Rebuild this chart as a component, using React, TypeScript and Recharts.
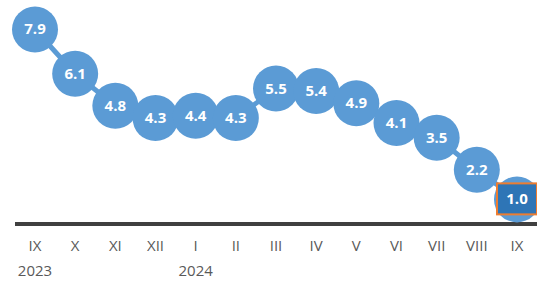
import React from 'react';
import { LineChart, Line, XAxis, YAxis } from 'recharts';

const months = ['IX', 'X', 'XI', 'XII', 'I', 'II', 'III', 'IV', 'V', 'VI', 'VII', 'VIII', 'IX'];
const years = ['2023', '', '', '', '2024', '', '', '', '', '', '', '', ''];
const values = [7.9, 6.1, 4.8, 4.3, 4.4, 4.3, 5.5, 5.4, 4.9, 4.1, 3.5, 2.2, 1.0];

const data = months.map((m, i) => ({ key: i, month: m, year: years[i], value: values[i] }));

const BLUE = '#5B9BD5';
const FONT = '"Open Sans", sans-serif';

const Dot = (props: any) => {
    const { cx, cy, index, payload } = props;
    const last = index === data.length - 1;
    return (
        <g key={`dot-${index}`}>
            <circle cx={cx} cy={cy} r={23} fill={BLUE} />
            {last && (
                <rect x={cx - 20} y={cy - 16} width={40} height={31} fill="#2E75B6" stroke="#ED7D31" strokeWidth={2} />
            )}
            <text x={cx} y={cy} dy={5} textAnchor="middle" fill="#fff" fontFamily={FONT} fontWeight={700} fontSize={15}>
                {payload.value.toFixed(1)}
            </text>
        </g>
    );
};

const Tick = (props: any) => {
    const { x, y, payload } = props;
    const row = data[payload.value];
    return (
        <g>
            <text x={x} y={y + 19} textAnchor="middle" fill="#595959" fontFamily={FONT} fontSize={15}>
                {row.month}
            </text>
            {row.year && (
                <text x={x} y={y + 44} textAnchor="middle" fill="#595959" fontFamily={FONT} fontSize={15}>
                    {row.year}
                </text>
            )}
        </g>
    );
};

const App = () => {
    return (
        <div style={{ position: 'absolute', left: 0, top: 0 }}>
            <LineChart width={537} height={282} data={data} margin={{ top: 27, right: 0, left: 15, bottom: 0 }}>
                <XAxis
                    dataKey="key"
                    height={58}
                    tickLine={false}
                    axisLine={{ stroke: '#404040', strokeWidth: 4 }}
                    tick={<Tick />}
                    interval={0}
                    padding={{ left: 20, right: 20 }}
                />
                <YAxis hide domain={[0, 8]} />
                <Line
                    dataKey="value"
                    stroke={BLUE}
                    strokeWidth={5}
                    dot={Dot}
                    activeDot={false}
                    isAnimationActive={false}
                />
            </LineChart>
        </div>
    );
};

export default App;
